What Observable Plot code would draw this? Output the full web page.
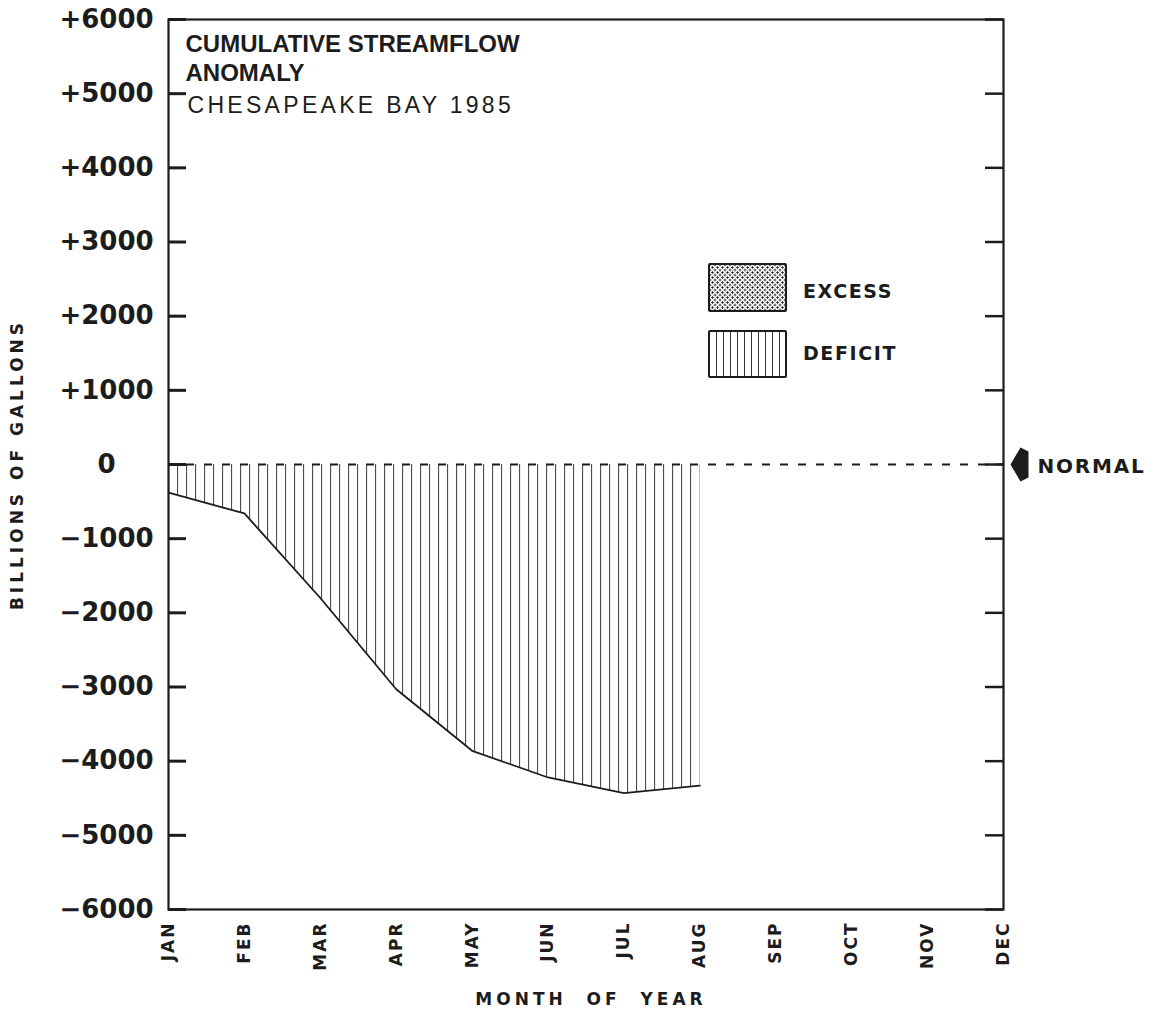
<!DOCTYPE html>
<html>
<head>
<meta charset="utf-8">
<script src="https://cdn.jsdelivr.net/npm/d3@7"></script>
<script src="https://cdn.jsdelivr.net/npm/@observablehq/plot@0.6"></script>
<style>
  body { margin: 0; background: #fff; }
  #wrap { position: relative; width: 1155px; height: 1017px; background: #fff; }
  #wrap svg { display: block; }
  .sw { position: absolute; left: 708px; width: 79px; box-sizing: border-box; border: 2.5px solid #1c1c1c; border-radius: 2px; }
  .sw.excess {
    background-color: #fff;
    background-image: radial-gradient(circle, #222 0.9px, transparent 1.3px), radial-gradient(circle, #222 0.9px, transparent 1.3px);
    background-size: 5px 5px, 5px 5px;
    background-position: 0 0, 2.5px 2.5px;
  }
  .sw.deficit {
    background-image: repeating-linear-gradient(90deg, transparent 0 6px, #333 6px 7px);
  }
  .lab { position: absolute; left: 803px; font-family: "DejaVu Sans"; font-weight: bold; font-size: 19px; line-height: 19px; letter-spacing: 1.6px; color: #1c1c1c; }
</style>
</head>
<body>
<div id="wrap"></div>
<script>
// ---- data ----
const months = ["JAN","FEB","MAR","APR","MAY","JUN","JUL","AUG","SEP","OCT","NOV","DEC"];
const deficitMonths = ["JAN","FEB","MAR","APR","MAY","JUN","JUL","AUG"];
const deficitValues = [-380, -660, -1800, -3030, -3860, -4220, -4430, -4330];
const yTicks = [-6000,-5000,-4000,-3000,-2000,-1000,0,1000,2000,3000,4000,5000,6000];
const yTickLabels = ["−6000","−5000","−4000","−3000","−2000","−1000","0","+1000","+2000","+3000","+4000","+5000","+6000"];
const titleLines = ["CUMULATIVE STREAMFLOW", "ANOMALY"];
const subtitle = "CHESAPEAKE BAY 1985";
const legendLabels = ["EXCESS", "DEFICIT"];
const normalLabel = "NORMAL";
const xLabel = "MONTH  OF  YEAR";
const yLabel = "BILLIONS OF GALLONS";

const data = deficitMonths.map((m, i) => ({month: m, x: months.indexOf(m), value: deficitValues[i]}));

// ---- layout ----
const W = 1155, H = 1017, mL = 168, mR = 152, mT = 19, mB = 108;
const frameW = W - mL - mR;
const tickLen = 18;
const ink = "#1c1c1c";

const arrowSymbol = {
  draw(ctx) {
    ctx.moveTo(-9, 0); ctx.lineTo(1, -17); ctx.lineTo(9, -13);
    ctx.lineTo(9, 13); ctx.lineTo(1, 17); ctx.closePath();
  }
};

const plot = Plot.plot({
  width: W, height: H,
  marginLeft: mL, marginRight: mR, marginTop: mT, marginBottom: mB,
  style: {background: "#fff", color: ink, fontFamily: "DejaVu Sans", overflow: "visible"},
  x: {domain: [0, 11]},
  y: {domain: [-6000, 6000]},
  marks: [
    Plot.areaY(data, {x: "x", y: "value", fill: "url(#hatch)"}),
    Plot.lineY(data, {x: "x", y: "value", stroke: ink, strokeWidth: 1.8}),
    Plot.ruleY([0], {stroke: ink, strokeWidth: 1.8, strokeDasharray: "8,10"}),
    Plot.tickY(yTicks, {y: d => d, insetRight: frameW - tickLen, stroke: ink, strokeWidth: 3}),
    Plot.tickY(yTicks, {y: d => d, insetLeft: frameW - tickLen, stroke: ink, strokeWidth: 2.5}),
    Plot.frame({stroke: ink, strokeWidth: 2.2}),
    Plot.axisY({ticks: yTicks, tickFormat: d => yTickLabels[yTicks.indexOf(d)], tickSize: 0, tickPadding: 62,
      textAnchor: "middle", fontSize: 26, fontWeight: "bold", label: null}),
    Plot.axisX({ticks: d3.range(12), tickFormat: i => months[i], tickSize: 0, tickPadding: 12, tickRotate: -90,
      fontSize: 17, fontWeight: "bold", label: null}),
    Plot.text([yLabel], {frameAnchor: "left", dx: -151, rotate: -90, textAnchor: "middle", fontSize: 17, fontWeight: "bold", fill: ink}),
    Plot.text([xLabel], {frameAnchor: "bottom", dy: 90, dx: 5, textAnchor: "middle", lineAnchor: "middle", fontSize: 17, fontWeight: "bold", fill: ink}),
    Plot.text([titleLines.join("\n")], {frameAnchor: "top-left", dx: 17, dy: 12, textAnchor: "start", lineAnchor: "top",
      fontSize: 24, fontWeight: "bold", fontFamily: "Liberation Sans", lineHeight: 1.2, fill: ink}),
    Plot.text([subtitle], {frameAnchor: "top-left", dx: 19, dy: 77, textAnchor: "start", lineAnchor: "top",
      fontSize: 23, fontFamily: "Liberation Sans", fill: ink}),
    Plot.dot([0], {y: d => d, frameAnchor: "right", dx: 16, symbol: arrowSymbol, fill: ink, stroke: null, r: 5}),
    Plot.text([0], {y: d => d, frameAnchor: "right", dx: 34, dy: 2, textAnchor: "start", text: () => normalLabel,
      fontSize: 20, fontWeight: "bold", fill: ink})
  ]
});

const svg = d3.select(plot);
svg.insert("defs", ":first-child").html(
  `<pattern id="hatch" patternUnits="userSpaceOnUse" x="${mL}" y="0" width="9" height="20">` +
  `<rect width="9" height="20" fill="#fff"/>` +
  `<line x1="0.6" y1="0" x2="0.6" y2="20" stroke="#3a3a3a" stroke-width="1"/></pattern>`
);
function textsWith(pred) {
  return svg.selectAll("text").filter(function () { return pred(this.textContent); });
}
textsWith(t => months.includes(t)).style("letter-spacing", "2px");
textsWith(t => t === yLabel).style("letter-spacing", "4px");
textsWith(t => t.replace(/\s+/g, " ") === xLabel.replace(/\s+/g, " ")).style("letter-spacing", "4px").style("white-space", "pre").text(xLabel);
textsWith(t => t === subtitle).style("letter-spacing", "3.3px");
textsWith(t => t === normalLabel).style("letter-spacing", "1.8px");

const wrap = document.getElementById("wrap");
wrap.appendChild(plot);

// legend overlay
const swTops = [263, 330], swHeights = [49, 48], labTops = [282, 344], swClass = ["excess", "deficit"];
legendLabels.forEach((lab, i) => {
  const sw = document.createElement("div");
  sw.className = "sw " + swClass[i];
  sw.style.top = swTops[i] + "px";
  sw.style.height = swHeights[i] + "px";
  wrap.appendChild(sw);
  const t = document.createElement("div");
  t.className = "lab";
  t.style.top = labTops[i] + "px";
  t.textContent = lab;
  wrap.appendChild(t);
});
</script>
</body>
</html>
